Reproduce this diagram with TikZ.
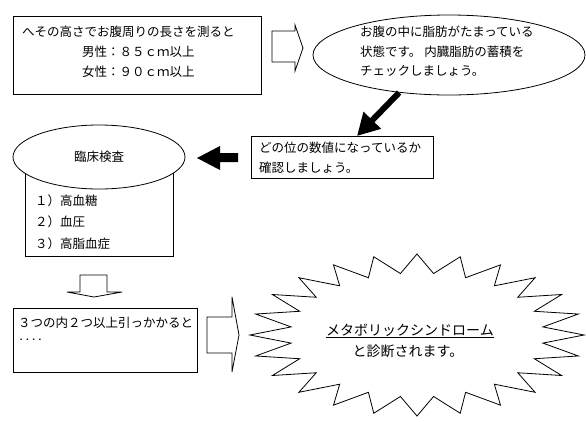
\documentclass[tikz,border=0pt]{standalone}
\usepackage{fontspec}
\setmainfont{Noto Sans CJK JP}
\usetikzlibrary{shapes.geometric,arrows.meta}
\begin{document}
\begin{tikzpicture}[x=1pt,y=-1pt,
  box/.style={draw,line width=0.8pt,inner sep=0pt,anchor=north west},
  oval/.style={draw,ellipse,line width=0.8pt,inner sep=0pt,fill=white},
  txt/.style={anchor=west,inner sep=0pt,font=\fontsize{12.5}{15}\selectfont},
  bigtxt/.style={inner sep=0pt,font=\fontsize{14}{16}\selectfont},
  blockarrow/.style={draw,line width=0.8pt,fill=white,line join=miter},
  blackarrow/.style={fill=black,draw=black,line width=0.5pt}]
\useasboundingbox (0,0) rectangle (586,421);

% box 1
\node[box,minimum width=248pt,minimum height=78pt] (b1) at (13,16) {};
\node[txt] (t1a) at (22,32) {へその高さでお腹周りの長さを測ると};
\node[txt] (t1b) at (82,52) {男性：８５ｃｍ以上};
\node[txt] (t1c) at (82,72) {女性：９０ｃｍ以上};

% block arrow right 1
\draw[blockarrow] (272,31) -- (295,31) -- (295,25) -- (303,48) -- (295,71) -- (295,62) -- (272,62) -- cycle;

% ellipse 1
\node[oval,minimum width=272pt,minimum height=80pt] (e1) at (449,55) {};
\node[txt] (t2a) at (360,32) {お腹の中に脂肪がたまっている};
\node[txt] (t2b) at (360,52) {状態です。 内臓脂肪の蓄積を};
\node[txt] (t2c) at (360,71) {チェックしましょう。};

% box 2
\node[box,minimum width=182pt,minimum height=42pt] (b2) at (251,136) {};
\node[txt] (t3a) at (259,148) {どの位の数値になっているか};
\node[txt] (t3b) at (259,168) {確認しましょう。};

% black arrow from ellipse 1 to box 2
\coordinate (tip1) at (357,136);
\draw[line width=6pt,-{Triangle[length=22pt,width=23pt]}] (e1.217.8) -- (tip1);

% black left arrow
\fill[black] (238,153) -- (220,153) -- (220,146) -- (197,158) -- (220,170) -- (220,162) -- (238,162) -- cycle;

% clinical test cylinder
\node[box,minimum width=148pt,minimum height=99pt] (b3) at (25,157) {};
\node[oval,minimum width=172pt,minimum height=64pt] (e2) at (99,157) {};
\node[bigtxt,font=\fontsize{12.5}{15}\selectfont] (t4) at (e2) {臨床検査};
\node[txt] (t5a) at (35,201) {１）高血糖};
\node[txt] (t5b) at (35,222) {２）血圧};
\node[txt] (t5c) at (35,244) {３）高脂血症};

% down block arrow
\draw[blockarrow] (80,275) -- (107,275) -- (107,292) -- (122,292) -- (94,297) -- (67,292) -- (80,292) -- cycle;

% box 3
\node[box,minimum width=184pt,minimum height=64pt] (b4) at (13,308) {};
\node[txt] (t6a) at (18,323) {３つの内２つ以上引っかかると};
\node[txt] (t6b) at (18,342) {‥‥};

% block arrow right 2
\draw[blockarrow] (207,317) -- (232,317) -- (232,297) -- (239,335) -- (232,372) -- (232,353) -- (207,353) -- cycle;

% burst
\draw[line width=0.8pt,line join=miter] (584,335)
  \foreach \a in {0,15,...,345} {
    -- ({417+127*cos(\a+7.5)},{335-62*sin(\a+7.5)})
    -- ({417+167*cos(\a+15)},{335-81*sin(\a+15)})
  } -- cycle;
\node[bigtxt] (t7a) at (410,331) {\underline{メタボリックシンドローム}};
\node[bigtxt] (t7b) at (408,351) {と診断されます。};
\end{tikzpicture}
\end{document}
